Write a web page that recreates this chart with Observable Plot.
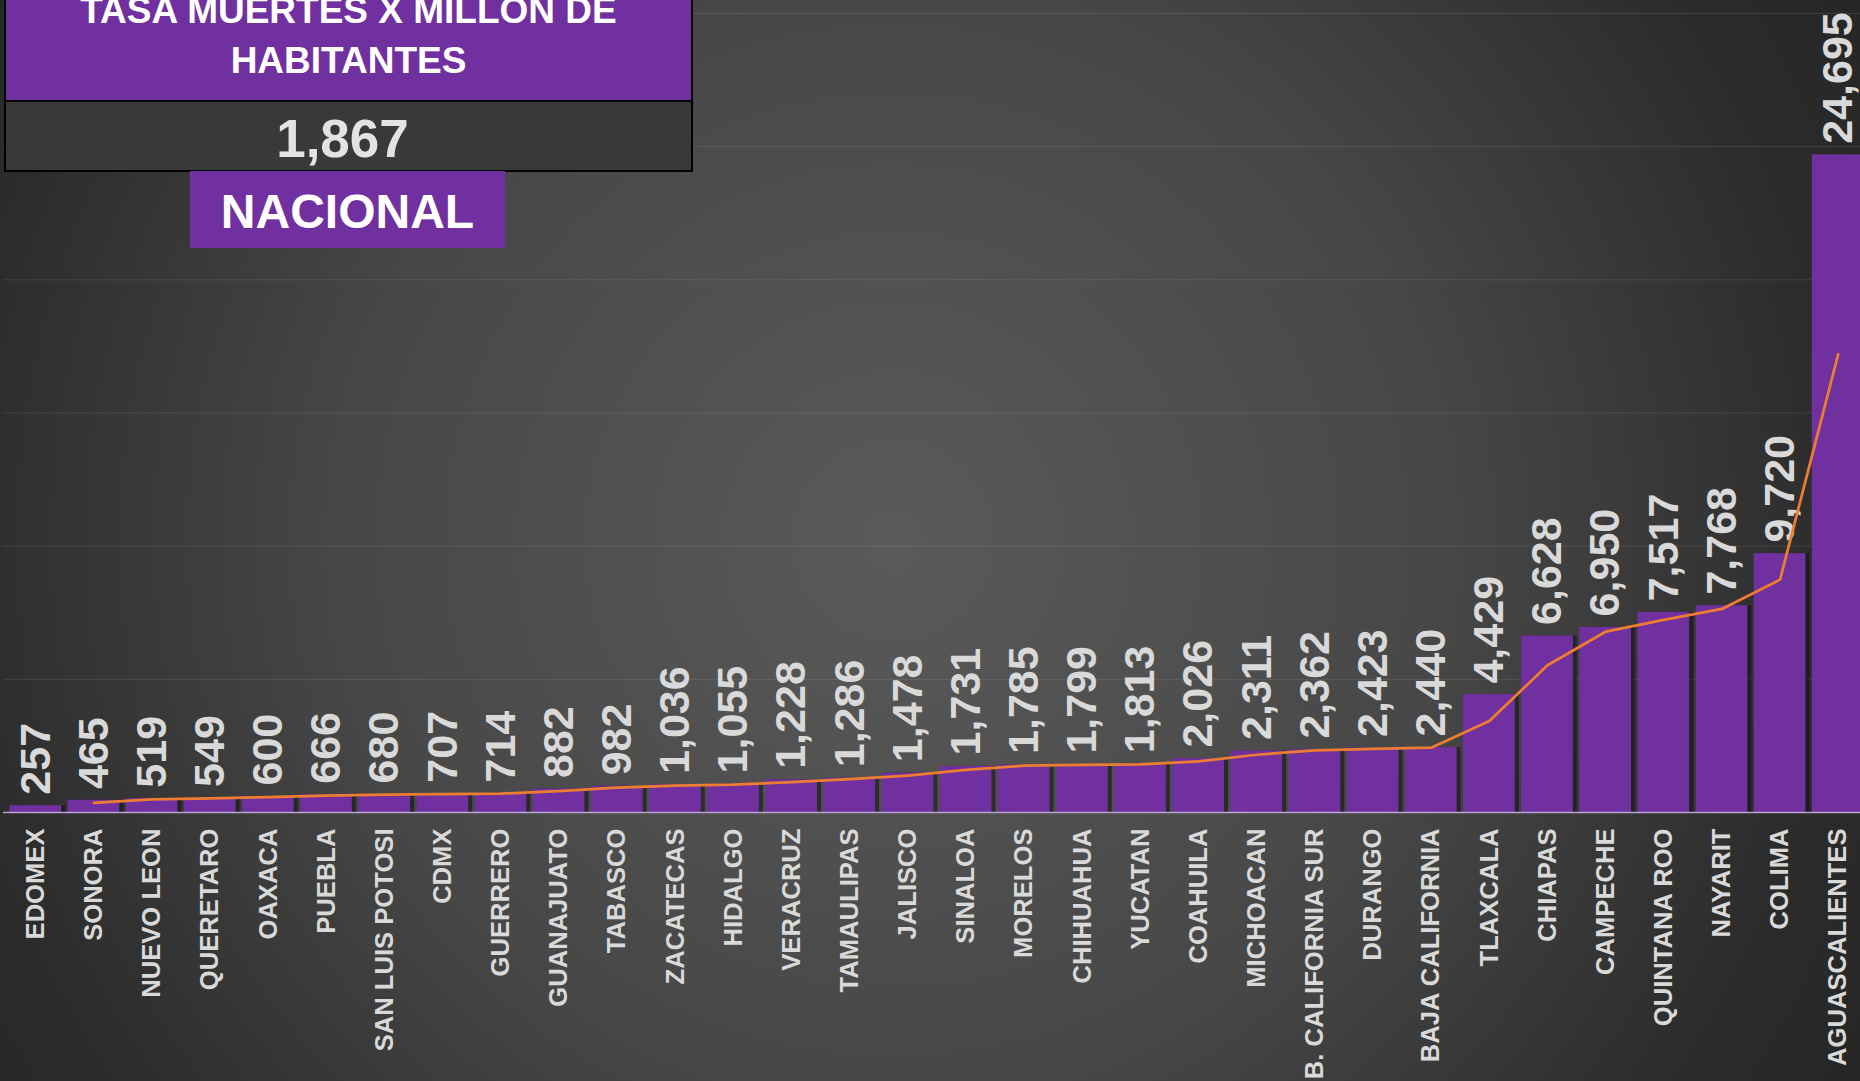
<!DOCTYPE html>
<html>
<head>
<meta charset="utf-8">
<script src="https://cdn.jsdelivr.net/npm/d3@7"></script>
<script src="https://cdn.jsdelivr.net/npm/@observablehq/plot@0.6"></script>
<style>
  html, body { margin: 0; padding: 0; width: 1860px; height: 1081px; overflow: hidden; }
  body {
    background: radial-gradient(circle at 48% 50%, #5a5a5a 0%, #474747 50%, #2c2c2c 85%, #262626 100%);
    font-family: "Liberation Sans", Arial, sans-serif;
  }
  #wrap { position: relative; width: 1860px; height: 1081px; }
  #chart svg { display: block; }
  .box { position: absolute; box-sizing: border-box; }
  .t { position: absolute; left: 0; right: 0; text-align: center; font-weight: bold; white-space: nowrap; }
</style>
</head>
<body>
<div id="wrap">
  <div id="chart"></div>
  <div class="box" style="left:4px; top:-20px; width:689px; height:122px; background:#7030A0; border:2px solid #000;">
    <div class="t" style="top:10px; font-size:37px; line-height:37px; color:#fff;">TASA MUERTES X MILLON DE</div>
    <div class="t" style="top:60px; font-size:37px; line-height:37px; color:#fff;">HABITANTES</div>
  </div>
  <div class="box" style="left:4px; top:100px; width:689px; height:72px; background:#3a393a; border:2px solid #000;">
    <div class="t" style="top:10px; right:12px; font-size:53px; line-height:53px; color:#e3e3e3;">1,867</div>
  </div>
  <div class="box" style="left:190px; top:171px; width:315px; height:77px; background:#7030A0;">
    <div class="t" style="top:17px; font-size:48px; line-height:48px; color:#fff;">NACIONAL</div>
  </div>
</div>
<script>
const states = ["EDOMEX","SONORA","NUEVO LEON","QUERETARO","OAXACA","PUEBLA","SAN LUIS POTOSI","CDMX","GUERRERO","GUANAJUATO","TABASCO","ZACATECAS","HIDALGO","VERACRUZ","TAMAULIPAS","JALISCO","SINALOA","MORELOS","CHIHUAHUA","YUCATAN","COAHUILA","MICHOACAN","B. CALIFORNIA SUR","DURANGO","BAJA CALIFORNIA","TLAXCALA","CHIAPAS","CAMPECHE","QUINTANA ROO","NAYARIT","COLIMA","AGUASCALIENTES"];
const values = [257,465,519,549,600,666,680,707,714,882,982,1036,1055,1228,1286,1478,1731,1785,1799,1813,2026,2311,2362,2423,2440,4429,6628,6950,7517,7768,9720,24695];
const gridTicks = [5000,10000,15000,20000,25000,30000];

const data = states.map((s, i) => ({state: s, value: values[i]}));
const fmt = d3.format(",");

const chart = Plot.plot({
  width: 1860,
  height: 1081,
  marginTop: 13,
  marginBottom: 269,
  marginLeft: 3,
  marginRight: -10,
  style: {background: "transparent", fontFamily: "Liberation Sans, Arial, sans-serif", color: "#d9d9d9", overflow: "visible"},
  x: {domain: states, padding: 0.11, round: false},
  y: {domain: [0, 30000], axis: null},
  marks: [
    Plot.ruleY(gridTicks, {stroke: "#ffffff", strokeOpacity: 0.1, strokeWidth: 1}),
    Plot.barY(data, {x: "state", y: "value", fill: "#111111", fillOpacity: 0.55, dx: 4}),
    Plot.barY(data, {x: "state", y: "value", fill: "#7030A0"}),
    Plot.ruleY([0], {stroke: "#b8a5cf", strokeWidth: 1.5}),
    Plot.axisX({tickRotate: -90, tickSize: 0, tickPadding: 16, fontSize: 25.6, fontWeight: "bold", fill: "#d9d9d9", label: null}),
    Plot.text(data, {x: "state", y: "value", text: d => fmt(d.value), rotate: -90, textAnchor: "start", dy: -11, fontSize: 43, fontWeight: "bold", fill: "#d9d9d9"}),
    Plot.lineY(data, Plot.windowY({k: 2, anchor: "end", reduce: v => v.length < 2 ? NaN : d3.mean(v)}, {x: "state", y: "value", stroke: "#ED7D31", strokeWidth: 2.75}))
  ]
});
document.getElementById("chart").appendChild(chart);
</script>
</body>
</html>
